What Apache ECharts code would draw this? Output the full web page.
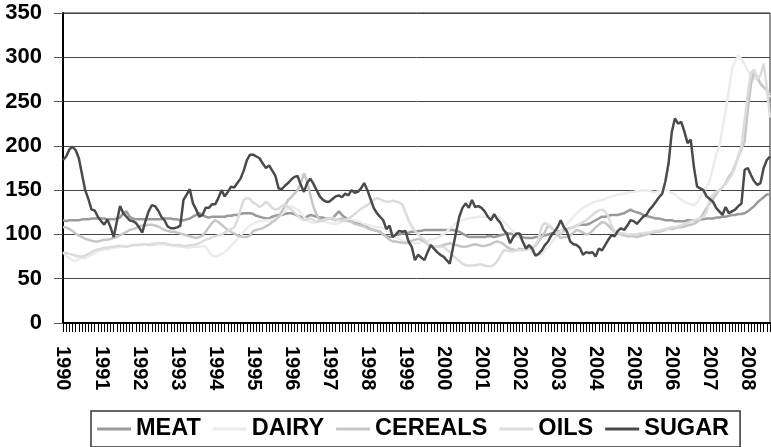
<!DOCTYPE html>
<html>
<head>
<meta charset="utf-8">
<script src="https://cdn.jsdelivr.net/npm/echarts@6/dist/echarts.min.js"></script>
<style>
  html, body { margin: 0; padding: 0; background: #fff; }
  #main { width: 771px; height: 447px; }
</style>
</head>
<body>
<div id="main"></div>
<script>
// 年份 (monthly data, Jan 1990 - Aug 2008)
const years = [1990, 1991, 1992, 1993, 1994, 1995, 1996, 1997, 1998, 1999,
  2000, 2001, 2002, 2003, 2004, 2005, 2006, 2007, 2008];
const lastYearMonths = 8;

const meat = [
  116,115,116,116,116,116,117,117,117,118,118,118,
  118,118,117,117,117,118,119,124,126,120,118,117,
  117,117,117,117,117,117,117,117,118,118,118,117,
  117,116,116,117,118,120,122,124,122,120,119,120,
  120,120,120,120,121,121,122,122,123,124,124,124,
  123,121,120,119,118,118,120,121,122,122,123,124,
  124,123,121,120,119,120,122,121,120,119,119,118,
  118,118,122,126,122,119,117,115,113,112,111,110,
  108,106,105,104,103,100,98,97,98,99,100,101,
  101,102,103,103,104,104,105,105,105,105,105,105,
  105,105,105,105,104,103,101,99,97,97,97,97,
  97,97,98,98,97,98,99,100,101,101,100,99,
  98,97,96,96,96,97,97,98,99,100,101,102,
  103,104,105,106,107,108,110,111,111,111,112,114,
  116,118,120,120,121,122,122,122,123,124,126,128,
  126,125,124,122,121,120,119,118,118,117,116,116,
  116,115,115,115,115,116,116,116,116,117,117,118,
  118,118,119,119,120,120,121,122,122,123,123,124,
  126,129,132,136,139,142,145,145
];

const dairy = [
  80,76,73,71,70,72,74,73,75,77,79,81,
  82,83,83,84,85,85,86,86,87,87,88,88,
  88,88,89,89,90,90,90,89,89,88,88,87,
  87,86,86,85,85,86,86,86,87,86,80,76,
  75,76,78,80,83,87,91,95,99,103,107,110,
  112,114,115,115,116,116,117,118,120,123,126,130,
  132,130,128,124,120,116,114,113,114,115,115,114,
  113,112,112,113,114,116,118,117,116,115,114,112,
  111,110,109,108,108,107,105,103,100,97,95,93,
  92,91,91,90,90,91,92,93,94,95,96,98,
  100,103,107,110,113,115,116,117,118,119,119,120,
  120,120,120,120,121,120,118,115,111,107,103,99,
  96,92,88,84,80,77,76,78,82,86,90,95,
  100,104,108,112,116,120,124,127,130,132,134,136,
  137,138,139,140,142,143,144,145,146,146,147,148,
  148,149,149,150,150,149,148,148,149,149,150,149,
  147,145,142,139,137,135,134,133,136,142,148,154,
  161,175,190,199,220,240,262,286,296,302,298,292,
  285,280,277,274,271,267,262,255
];

const cereals = [
  108,108,106,104,101,99,97,95,94,93,92,92,
  93,94,94,95,96,97,99,101,103,105,106,107,
  109,110,110,111,111,110,109,107,105,104,103,103,
  102,101,100,99,98,97,96,97,99,103,108,113,
  116,114,111,108,105,103,101,99,98,97,97,99,
  104,105,106,107,109,111,114,116,120,126,132,139,
  142,146,150,158,169,160,145,131,122,116,116,117,
  118,117,116,117,118,116,115,114,112,111,110,109,
  107,106,105,104,103,100,97,94,92,92,91,91,
  90,91,93,94,95,94,92,89,86,86,86,87,
  88,89,90,89,88,87,86,86,87,88,89,88,
  87,87,88,89,91,92,91,89,86,84,83,82,
  84,83,83,84,85,87,92,97,103,110,108,104,
  99,96,97,97,99,102,105,104,102,100,101,104,
  108,111,114,113,110,106,103,101,100,99,98,98,
  98,97,98,99,100,101,102,103,103,104,105,107,
  106,107,108,108,109,110,111,112,114,118,124,130,
  135,140,145,150,153,158,165,170,178,188,196,205,
  240,270,283,278,270,266,263,258
];

const oils = [
  79,79,78,77,76,75,75,76,78,80,82,83,
  84,85,85,86,86,87,87,87,86,87,88,88,
  88,89,89,88,88,89,90,90,90,89,88,88,
  88,88,87,87,88,88,89,90,92,94,95,97,
  98,99,100,102,104,106,108,116,128,139,141,140,
  136,134,131,133,137,134,130,128,129,132,134,131,
  128,125,121,118,116,117,118,116,114,115,116,118,
  118,119,117,116,115,116,118,120,123,126,129,131,
  133,136,139,141,140,138,137,137,138,137,136,134,
  125,116,109,104,100,97,94,90,88,86,86,86,
  86,83,80,76,73,70,67,65,65,65,65,66,
  66,65,64,64,66,70,76,82,82,81,81,82,
  82,82,83,84,86,88,95,109,113,111,107,104,
  102,101,103,105,107,108,110,112,114,116,119,122,
  125,127,128,126,120,110,104,102,101,101,100,100,
  100,100,101,101,102,102,103,104,104,105,106,107,
  108,108,109,110,112,113,115,116,117,118,120,125,
  140,145,148,150,153,157,162,168,176,188,199,229,
  259,282,286,275,280,293,266,232
];

const sugar = [
  184,188,196,199,195,186,168,150,140,128,127,120,
  115,111,117,108,97,115,132,124,120,116,115,113,
  108,102,115,126,133,132,127,120,116,109,107,107,
  108,110,139,145,151,135,128,120,122,130,130,134,
  134,141,150,143,148,154,153,158,163,172,184,190,
  190,188,186,180,175,178,172,166,152,151,155,158,
  162,165,166,156,148,158,163,157,150,143,139,137,
  137,140,143,144,142,146,144,150,147,148,152,158,
  150,140,130,124,120,116,106,110,97,100,104,103,
  104,92,86,71,77,74,71,80,88,84,80,77,
  75,71,67,85,103,120,130,135,130,139,131,132,
  130,126,120,116,123,117,113,105,101,90,97,101,
  101,92,84,88,84,76,78,82,88,92,99,103,
  108,116,108,103,92,89,88,85,77,80,79,80,
  75,84,82,88,94,99,98,104,107,105,110,116,
  115,112,116,120,122,128,132,137,142,146,160,180,
  215,231,225,227,216,203,207,176,154,152,150,143,
  140,137,130,126,122,131,124,126,128,132,135,173,
  175,167,160,156,158,175,184,188
];

const seriesNames = ["MEAT", "DAIRY", "CEREALS", "OILS", "SUGAR"];
const seriesColors = ["#9a9a9a", "#ececec", "#c6c6c6", "#dcdcdc", "#4a4a4a"];
const seriesData = [meat, dairy, cereals, oils, sugar];

// 横坐标: one category per month
let months = [];
years.forEach((y, i) => {
  let n = i === years.length - 1 ? lastYearMonths : 12;
  for (let m = 1; m <= n; m++) {
    months.push(y + "-" + (m < 10 ? "0" + m : m));
  }
});

const fontFamily = "'Liberation Sans', Arial, sans-serif";

let myChart = echarts.init(document.getElementById("main"));
myChart.setOption({
  animation: false,
  grid: {
    left: 63,
    right: 1,
    top: 13,
    bottom: 124,
    show: true,
    borderColor: "#222",
    borderWidth: 1
  },
  legend: {
    data: seriesNames,
    left: 91,
    top: 411,
    padding: [6, 11, 6, 6],
    itemGap: 12,
    itemWidth: 34,
    itemHeight: 3,
    icon: "rect",
    borderColor: "#333",
    borderWidth: 1.5,
    textStyle: {
      color: "#000",
      fontFamily: fontFamily,
      fontWeight: "bold",
      fontSize: 23.5,
      lineHeight: 24
    }
  },
  xAxis: {
    type: "category",
    boundaryGap: false,
    data: months,
    axisLine: {
      lineStyle: { color: "#000", width: 2 }
    },
    axisTick: {
      show: true,
      interval: 0,
      length: 9,
      lineStyle: { color: "#000", width: 1 }
    },
    axisLabel: {
      interval: 11,
      rotate: -90,
      margin: 23,
      color: "#000",
      fontFamily: fontFamily,
      fontWeight: "bold",
      fontSize: 20,
      formatter: function (v) {
        return v.substring(0, 4);
      }
    },
    splitLine: { show: false }
  },
  yAxis: {
    type: "value",
    min: 0,
    max: 350,
    interval: 50,
    axisLine: {
      show: true,
      lineStyle: { color: "#000", width: 2 }
    },
    axisTick: {
      show: true,
      length: 9,
      lineStyle: { color: "#555", width: 1 }
    },
    axisLabel: {
      margin: 21,
      color: "#000",
      fontFamily: fontFamily,
      fontWeight: "bold",
      fontSize: 22
    },
    splitLine: {
      show: true,
      lineStyle: { color: "#444", width: 1, type: "solid" }
    }
  },
  series: seriesNames.map((name, i) => ({
    name: name,
    type: "line",
    data: seriesData[i],
    symbol: "none",
    itemStyle: { color: seriesColors[i] },
    lineStyle: { color: seriesColors[i], width: 2.5 }
  }))
});
</script>
</body>
</html>
